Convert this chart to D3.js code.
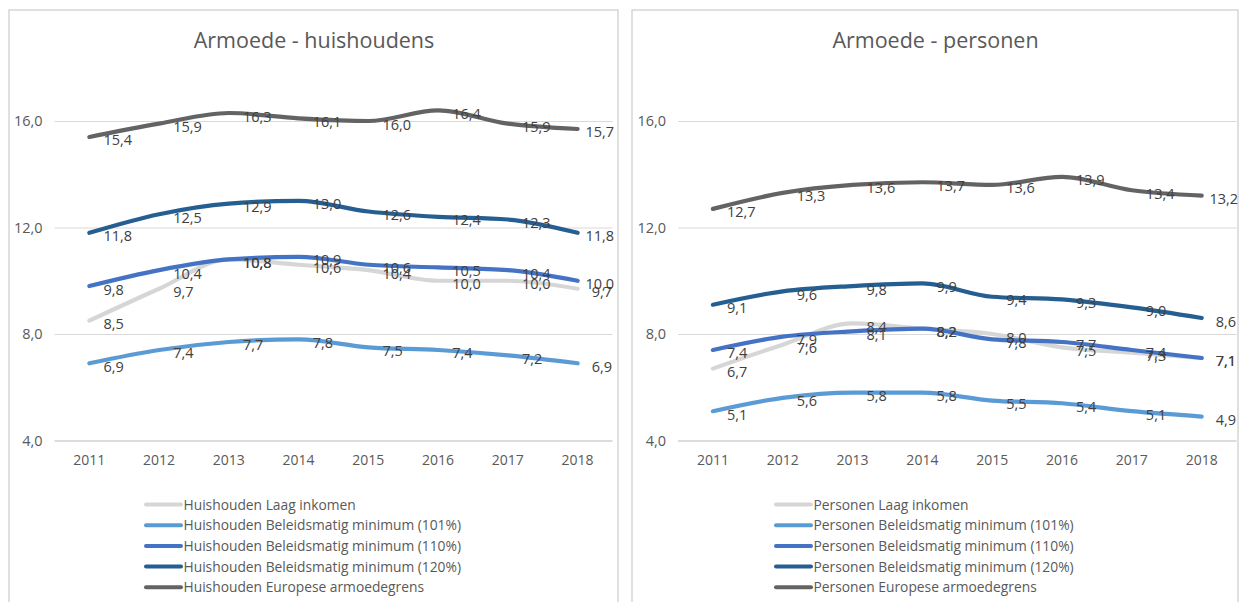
<!DOCTYPE html>
<html>
<head>
<meta charset="utf-8">
<script src="https://cdn.jsdelivr.net/npm/d3@7"></script>
<style>
  html, body { margin: 0; padding: 0; background: #ffffff; }
  svg { display: block; }
</style>
</head>
<body>
<svg id="chart" width="1239" height="602"></svg>
<script>
// ---------- DATA ----------
const years = ["2011", "2012", "2013", "2014", "2015", "2016", "2017", "2018"];
const yTicks = [4, 8, 12, 16];

const seriesNames = ["Laag inkomen", "Beleidsmatig minimum (101%)", "Beleidsmatig minimum (110%)", "Beleidsmatig minimum (120%)", "Europese armoedegrens"];
const seriesColors = ["#d6d6d6", "#5b9bd5", "#4472c4", "#255e91", "#636363"];

// Huishoudens
const hhLaagInkomen = [8.5, 9.7, 10.8, 10.6, 10.4, 10.0, 10.0, 9.7];
const hhMin101 = [6.9, 7.4, 7.7, 7.8, 7.5, 7.4, 7.2, 6.9];
const hhMin110 = [9.8, 10.4, 10.8, 10.9, 10.6, 10.5, 10.4, 10.0];
const hhMin120 = [11.8, 12.5, 12.9, 13.0, 12.6, 12.4, 12.3, 11.8];
const hhEuropees = [15.4, 15.9, 16.3, 16.1, 16.0, 16.4, 15.9, 15.7];

// Personen
const psLaagInkomen = [6.7, 7.6, 8.4, 8.2, 8.0, 7.5, 7.3, 7.1];
const psMin101 = [5.1, 5.6, 5.8, 5.8, 5.5, 5.4, 5.1, 4.9];
const psMin110 = [7.4, 7.9, 8.1, 8.2, 7.8, 7.7, 7.4, 7.1];
const psMin120 = [9.1, 9.6, 9.8, 9.9, 9.4, 9.3, 9.0, 8.6];
const psEuropees = [12.7, 13.3, 13.6, 13.7, 13.6, 13.9, 13.4, 13.2];

const charts = [
  { title: "Armoede - huishoudens", prefix: "Huishouden",
    series: [hhLaagInkomen, hhMin101, hhMin110, hhMin120, hhEuropees],
    frame: [9, 10, 618], plot: [54.5, 612.5], legendX: 144 },
  { title: "Armoede - personen", prefix: "Personen",
    series: [psLaagInkomen, psMin101, psMin110, psMin120, psEuropees],
    frame: [632, 10, 1238], plot: [678, 1236.6], legendX: 774 }
];

// ---------- DRAW ----------
const svg = d3.select("#chart");
const fmt = v => d3.format(".1f")(v).replace(".", ",");
const textColor = "#595959";
const labelColor = "#404040";
const fontFam = "'Open Sans', 'Liberation Sans', sans-serif";

const y = d3.scaleLinear().domain([4, 16]).range([440.5, 121]);

charts.forEach(c => {
  const g = svg.append("g");
  // frame
  g.append("rect")
    .attr("x", c.frame[0]).attr("y", c.frame[1])
    .attr("width", c.frame[2] - c.frame[0]).attr("height", 700)
    .attr("fill", "#fff").attr("stroke", "#d0d0d0").attr("stroke-width", 1.3);

  const x = d3.scaleBand().domain(years).range(c.plot).paddingInner(0).paddingOuter(0);
  const cx = d => x(d) + x.bandwidth() / 2;

  // title
  g.append("text")
    .attr("x", (c.frame[0] + c.frame[2]) / 2 + 0.5).attr("y", 48)
    .attr("text-anchor", "middle")
    .attr("font-family", fontFam).attr("font-size", 21.5)
    .attr("fill", textColor).text(c.title);

  // gridlines + y labels
  const yAxis = d3.axisLeft(y).tickValues(yTicks)
    .tickSize(-(c.plot[1] - c.plot[0])).tickPadding(12)
    .tickFormat(fmt);
  const ga = g.append("g").attr("transform", `translate(${c.plot[0]},0)`).call(yAxis);
  ga.select(".domain").remove();
  ga.selectAll(".tick line").attr("stroke", "#d9d9d9").attr("stroke-width", 1);
  ga.selectAll(".tick").filter(d => d === 4).select("line").attr("stroke", "#d0d0d0").attr("stroke-width", 1.5);
  ga.selectAll(".tick text").attr("font-family", fontFam).attr("font-size", 14.5)
    .attr("fill", textColor);

  // x axis labels
  const xAxis = d3.axisBottom(x).tickSize(0).tickPadding(15);
  const gx = g.append("g").attr("transform", `translate(0,${y(4)})`).call(xAxis);
  gx.select(".domain").remove();
  gx.selectAll(".tick text").attr("font-family", fontFam).attr("font-size", 14)
    .attr("fill", textColor);

  // lines
  const line = d3.line()
    .x((d, i) => cx(years[i]))
    .y(d => y(d))
    .curve(d3.curveMonotoneX);

  c.series.forEach((s, si) => {
    g.append("path")
      .datum(s)
      .attr("d", line)
      .attr("fill", "none")
      .attr("stroke", seriesColors[si])
      .attr("stroke-width", 4.2)
      .attr("stroke-linecap", "round")
      .attr("stroke-linejoin", "round");
  });

  // data labels
  const limit = c.plot[1] + 1.5;
  c.series.forEach((s, si) => {
    s.forEach((v, i) => {
      const t = g.append("text")
        .attr("font-family", fontFam).attr("font-size", 14.5)
        .attr("fill", labelColor)
        .attr("y", y(v) + 8.5)
        .text(fmt(v));
      const w = t.node().getComputedTextLength();
      let px = cx(years[i]) + 14;
      if (px + w > limit) px = limit - w;
      t.attr("x", px);
    });
  });

  // legend
  const lg = g.append("g");
  seriesNames.forEach((n, si) => {
    const ly = 504.5 + si * 20.7;
    lg.append("line")
      .attr("x1", c.legendX + 2).attr("x2", c.legendX + 37)
      .attr("y1", ly).attr("y2", ly)
      .attr("stroke", seriesColors[si]).attr("stroke-width", 4)
      .attr("stroke-linecap", "round");
    lg.append("text")
      .attr("x", c.legendX + 39.5).attr("y", ly + 5)
      .attr("font-family", fontFam).attr("font-size", 13.8)
      .attr("fill", textColor)
      .text(c.prefix + " " + n);
  });
});
</script>
</body>
</html>
